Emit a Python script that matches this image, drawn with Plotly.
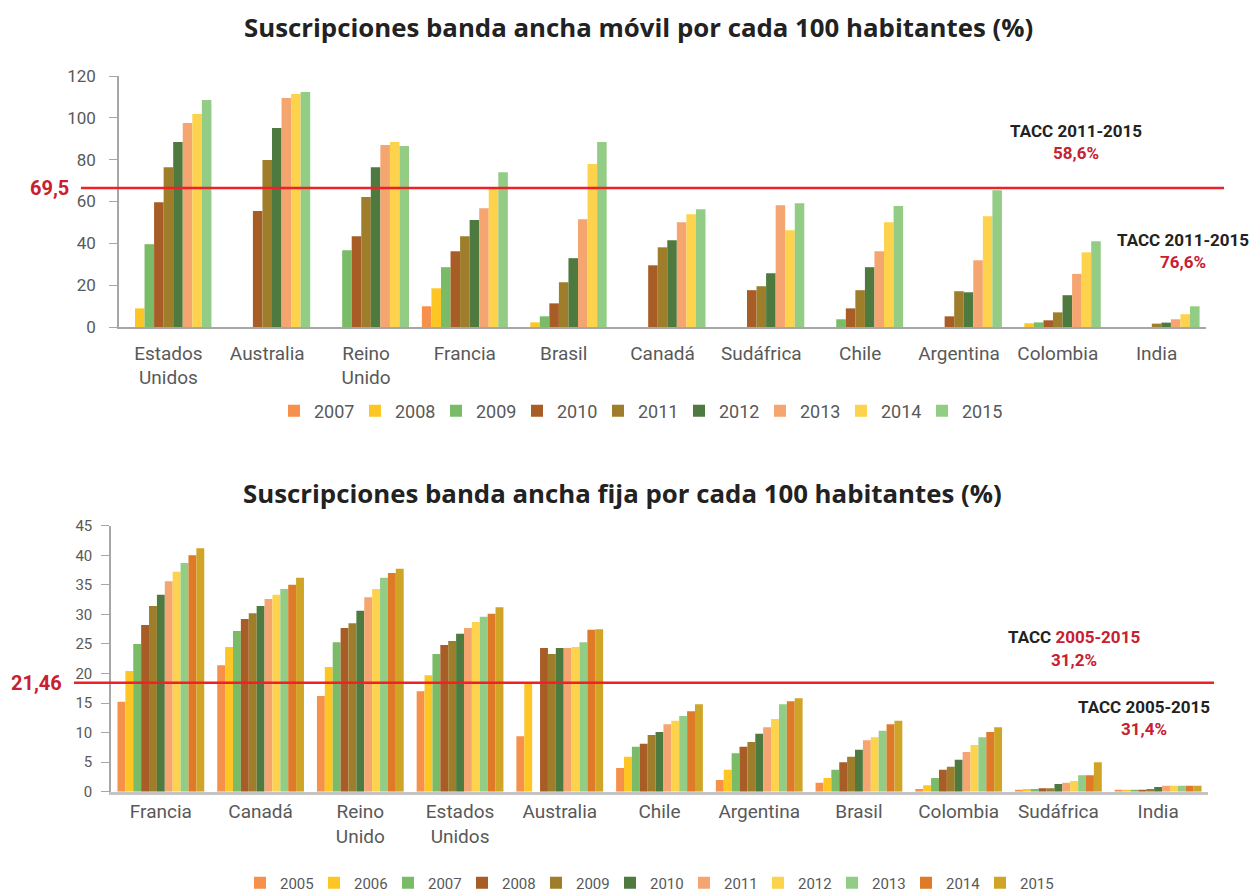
import plotly.graph_objects as go

# Banda ancha movil (por cada 100 habitantes)
movil_paises = ["Estados<br>Unidos", "Australia", "Reino<br>Unido", "Francia", "Brasil",
                "Canadá", "Sudáfrica", "Chile", "Argentina", "Colombia", "India"]
movil_anios = ["2007", "2008", "2009", "2010", "2011", "2012", "2013", "2014", "2015"]
movil_2007 = [None, None, None, 9.9, None, None, None, None, None, None, None]
movil_2008 = [8.9, None, None, 18.5, 2.2, None, None, None, None, 1.8, None]
movil_2009 = [39.6, None, 36.7, 28.6, 5.1, None, None, 3.7, None, 2.2, None]
movil_2010 = [59.7, 55.4, 43.4, 36.2, 11.3, 29.5, 17.6, 8.9, 5.1, 3.2, None]
movil_2011 = [76.4, 79.8, 62.1, 43.4, 21.4, 38.1, 19.5, 17.6, 17.1, 7.0, 1.6]
movil_2012 = [88.4, 95.1, 76.4, 51.1, 32.9, 41.5, 25.7, 28.6, 16.6, 15.2, 2.1]
movil_2013 = [97.5, 109.5, 87.0, 56.8, 51.5, 50.1, 58.2, 36.2, 31.9, 25.4, 3.7]
movil_2014 = [101.8, 111.4, 88.4, 66.4, 77.9, 53.9, 46.3, 50.1, 53.0, 35.7, 6.1]
movil_2015 = [108.5, 112.3, 86.5, 74.0, 88.4, 56.3, 59.2, 57.8, 65.4, 41.0, 9.9]
movil_valores = [movil_2007, movil_2008, movil_2009, movil_2010, movil_2011,
                 movil_2012, movil_2013, movil_2014, movil_2015]
movil_promedio = 66.4  # where the red line is drawn (labelled 69,5)

# Banda ancha fija (por cada 100 habitantes)
fija_paises = ["Francia", "Canadá", "Reino<br>Unido", "Estados<br>Unidos", "Australia",
               "Chile", "Argentina", "Brasil", "Colombia", "Sudáfrica", "India"]
fija_anios = ["2005", "2006", "2007", "2008", "2009", "2010", "2011", "2012", "2013", "2014", "2015"]
fija_2005 = [15.2, 21.4, 16.2, 17.0, 9.4, 4.0, 2.0, 1.5, 0.45, 0.3, 0.3]
fija_2006 = [20.4, 24.5, 21.1, 19.7, 18.5, 5.9, 3.7, 2.3, 1.1, 0.45, 0.3]
fija_2007 = [25.0, 27.2, 25.3, 23.3, None, 7.6, 6.5, 3.7, 2.3, 0.45, 0.3]
fija_2008 = [28.2, 29.2, 27.7, 24.8, 24.3, 8.1, 7.6, 5.0, 3.7, 0.6, 0.3]
fija_2009 = [31.4, 30.2, 28.5, 25.5, 23.3, 9.6, 8.4, 5.9, 4.2, 0.6, 0.45]
fija_2010 = [33.3, 31.4, 30.6, 26.7, 24.3, 10.1, 9.8, 7.1, 5.4, 1.3, 0.8]
fija_2011 = [35.6, 32.6, 32.9, 27.7, 24.3, 11.4, 10.9, 8.7, 6.7, 1.5, 1.0]
fija_2012 = [37.2, 33.3, 34.3, 28.7, 24.5, 12.0, 12.3, 9.2, 7.9, 1.8, 1.0]
fija_2013 = [38.7, 34.3, 36.2, 29.6, 25.3, 12.8, 14.8, 10.3, 9.2, 2.8, 1.0]
fija_2014 = [40.0, 35.0, 37.0, 30.1, 27.4, 13.6, 15.3, 11.4, 10.1, 2.8, 1.0]
fija_2015 = [41.2, 36.2, 37.7, 31.2, 27.5, 14.8, 15.8, 12.0, 10.9, 5.0, 1.0]
fija_valores = [fija_2005, fija_2006, fija_2007, fija_2008, fija_2009, fija_2010,
                fija_2011, fija_2012, fija_2013, fija_2014, fija_2015]
fija_promedio = 18.45  # red line position (labelled 21,46)

# colours
movil_colores = ["#F5914A", "#FDC624", "#79BB67", "#A85C26", "#9E7E2A",
                 "#4E7A3F", "#F5A570", "#FDD24C", "#93CC85"]
fija_colores = ["#F5914A", "#FDC624", "#79BB67", "#A85C26", "#9E7E2A", "#4E7A3F",
                "#F5A570", "#FDD24C", "#93CC85", "#DE7A28", "#D0A427"]
ROJO = "#C8202F"
LINEA = "#EE2028"
GRIS = "#595959"
FONT = "Roboto, 'DejaVu Sans', sans-serif"
TITLE_FONT = "'Open Sans', Roboto, sans-serif"

W, H = 1254, 892

fig = go.Figure()

for anio, vals, col in zip(movil_anios, movil_valores, movil_colores):
    fig.add_trace(go.Bar(x=movil_paises, y=vals, name=anio, marker=dict(color=col, line_width=0),
                         xaxis="x", yaxis="y", legend="legend"))

for anio, vals, col in zip(fija_anios, fija_valores, fija_colores):
    fig.add_trace(go.Bar(x=fija_paises, y=vals, name=anio, marker=dict(color=col, line_width=0),
                         xaxis="x2", yaxis="y2", legend="legend2"))

# red reference lines
fig.add_shape(type="line", xref="paper", yref="y", x0=81 / W, x1=1224 / W,
              y0=movil_promedio, y1=movil_promedio, line=dict(color=LINEA, width=2.5))
fig.add_shape(type="line", xref="paper", yref="y2", x0=74 / W, x1=1214 / W,
              y0=fija_promedio, y1=fija_promedio, line=dict(color=LINEA, width=2.5))

annotations = [
    dict(text="<b>Suscripciones banda ancha móvil por cada 100 habitantes (%)</b>",
         x=638 / W, y=1 - 27 / H, font=dict(size=25.8, color="#222222", family=TITLE_FONT)),
    dict(text="<b>Suscripciones banda ancha fija por cada 100 habitantes (%)</b>",
         x=622 / W, y=1 - 493 / H, font=dict(size=25.8, color="#222222", family=TITLE_FONT)),
    dict(text="<b>69,5</b>", x=71 / W, y=1 - 188 / H, xanchor="right",
         font=dict(size=20, color=ROJO)),
    dict(text="<b>21,46</b>", x=64 / W, y=1 - 683 / H, xanchor="right",
         font=dict(size=20, color=ROJO)),
    dict(text="<b>TACC 2011-2015</b>", x=1076 / W, y=1 - 131 / H, font=dict(size=17, color="#222222")),
    dict(text="<b>58,6%</b>", x=1076 / W, y=1 - 153 / H, font=dict(size=17, color=ROJO)),
    dict(text="<b>TACC 2011-2015</b>", x=1183 / W, y=1 - 240 / H, font=dict(size=17, color="#222222")),
    dict(text="<b>76,6%</b>", x=1183 / W, y=1 - 262 / H, font=dict(size=17, color=ROJO)),
    dict(text="<b>TACC <span style='color:%s'>2005-2015</span></b>" % ROJO,
         x=1074 / W, y=1 - 637 / H, font=dict(size=17, color="#222222")),
    dict(text="<b>31,2%</b>", x=1074 / W, y=1 - 660 / H, font=dict(size=17, color=ROJO)),
    dict(text="<b>TACC 2005-2015</b>", x=1144 / W, y=1 - 707 / H, font=dict(size=17, color="#222222")),
    dict(text="<b>31,4%</b>", x=1144 / W, y=1 - 729 / H, font=dict(size=17, color=ROJO)),
]
for a in annotations:
    a.update(xref="paper", yref="paper", showarrow=False)
    a.setdefault("xanchor", "center")
    a["yanchor"] = "middle"

fig.update_layout(
    width=W, height=H,
    margin=dict(l=0, r=0, t=0, b=0, autoexpand=False),
    paper_bgcolor="white", plot_bgcolor="white",
    font=dict(family=FONT, color=GRIS),
    barmode="group", bargap=0.13, bargroupgap=0,
    annotations=annotations,
    xaxis=dict(domain=[119 / W, 1206 / W], anchor="y", showgrid=False,
               showline=True, linecolor="#A6A6A6", linewidth=1.5,
               tickfont=dict(size=19, color=GRIS), ticklabelstandoff=8),
    yaxis=dict(domain=[1 - 327 / H, 1 - 76 / H], anchor="x", range=[0, 120], dtick=20,
               showgrid=False, zeroline=False, showline=True, linecolor="#A6A6A6", linewidth=1.5,
               ticks="outside", ticklen=8, tickcolor="#A6A6A6", ticklabelstandoff=10,
               tickfont=dict(size=17, color=GRIS)),
    xaxis2=dict(domain=[111 / W, 1208 / W], anchor="y2", showgrid=False,
                showline=True, linecolor="#C4C4C4", linewidth=2.5,
                tickfont=dict(size=19, color=GRIS), ticklabelstandoff=1),
    yaxis2=dict(domain=[1 - 791.7 / H, 1 - 525.7 / H], anchor="x2", range=[0, 45], dtick=5,
                showgrid=False, zeroline=False, showline=True, linecolor="#A6A6A6", linewidth=1.5,
                ticks="outside", ticklen=8, tickcolor="#A6A6A6", ticklabelstandoff=6,
                tickfont=dict(size=15, color=GRIS)),
    legend=dict(orientation="h", x=274 / W, xanchor="left", y=1 - 411 / H, yanchor="middle",
                font=dict(size=18, color=GRIS), itemwidth=30, entrywidth=36,
                traceorder="normal"),
    legend2=dict(orientation="h", x=240 / W, xanchor="left", y=1 - 883 / H, yanchor="middle",
                 font=dict(size=15, color=GRIS), itemwidth=30, entrywidth=29,
                 traceorder="normal"),
)

fig.write_html("out.html", config={"displayModeBar": False},
               post_script="document.body.style.margin='0';")
